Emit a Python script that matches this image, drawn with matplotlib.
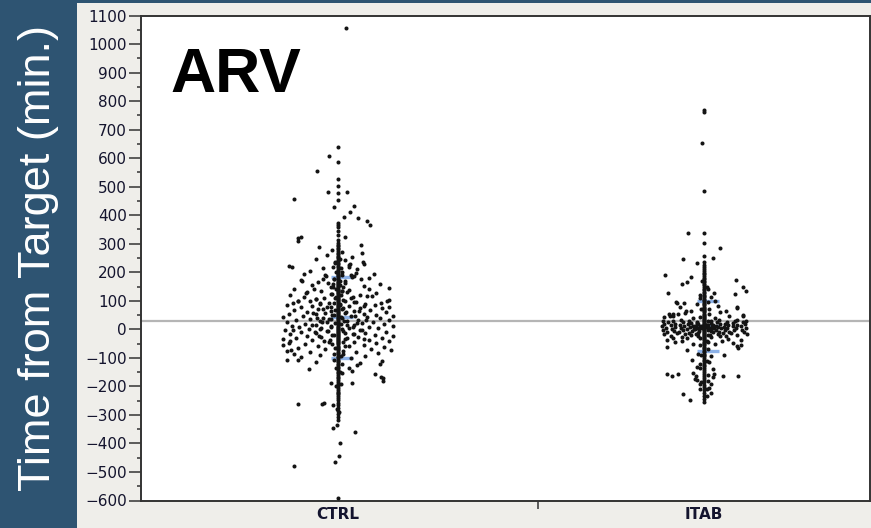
import matplotlib
matplotlib.use("Agg")
import matplotlib.pyplot as plt
from matplotlib.patches import Rectangle
from matplotlib.ticker import MultipleLocator
import numpy as np

# -----------------------------
# Data (minutes from target)
# -----------------------------

groups = ["CTRL", "ITAB"]

# points lying on the group centre line
ctrl_center = [
    640, 585, 527, 503, 477, 454, 373, 366, 360, 345, 330,
    313, 303, 297, 291, 284, 281, 276, 269, 265, 258, 252, 249, 243, 238,
    231, 228, 221, 217, 212, 206, 203, 198, 194, 191, 186, 183, 178, 175,
    171, 166, 163, 159, 154, 151, 147, 142, 139, 135, 130, 127, 123, 118,
    115, 111, 107, 102, 99, 95, 90, 87, 83, 79, 76, 71, 68, 64, 61, 57,
    53, 49, 46, 42, 39, 35, 31, 27, 24, 20, 17, 13, 9, 6, 2, -1, -5, -8,
    -12, -16, -19, -23, -27, -30, -34, -38, -42, -45, -49, -53, -57, -61,
    -66, -70, -74, -79, -83, -88, -92, -97, -101, -106, -111, -115, -120,
    -126, -131, -137, -142, -148, -153, -159, -166, -172, -178, -185, -191,
    -198, -204, -211, -219, -226, -234, -241, -249, -258, -267, -276, -286,
    -297, -308, -318,
]

itab_center = [
    768, 762, 486, 338, 301, 258, 236, 226, 219, 212, 205, 199, 193, 187,
    181, 176, 170, 165, 159, 154, 148, 143, 138, 132, 127, 122, 117, 112,
    108, 103, 98, 94, 89, 85, 80, 76, 72, 67, 63, 59, 55, 51, 47, 43, 39,
    35, 31, 28, 24, 21, 18, 15, 12, 9, 6, 3, 0, -3, -6, -9, -13, -16, -20,
    -24, -27, -31, -35, -39, -43, -47, -52, -56, -61, -65, -70, -75, -80,
    -85, -90, -95, -101, -106, -112, -118, -124, -130, -136, -142, -149,
    -156, -163, -170, -178, -186, -194, -203, -212, -222, -233, -245,
]

# jittered points: value and horizontal jitter (in group widths)
ctrl_values = [
    1055, 607, 556, 482, 480, 457, 432, 429, 411, 394, 391, 378, 367, 324,
    324, 320, 311, 294, 289, 267, 237, 229, 225, 223, 218,
    278, 270, 262, 255, 248, 242, 236, 230, 220, 219, 215, 210, 205, 200,
    197, 194, 194, 192, 190, 188, 186, 182, 181, 178, 176, 176, 174, 171,
    168, 165, 162, 162, 159, 157, 155, 152, 150, 147,
    145, 143, 143, 140, 138, 136, 133, 132, 130, 128, 126, 124, 122, 120,
    118, 117, 115, 114, 112, 111, 110, 108, 106, 104, 103, 101, 100, 98, 98,
    96, 94, 94, 92, 91, 90, 88, 86, 85, 83, 82, 80, 78, 77, 75, 74, 72, 70,
    68, 67, 65, 63, 62, 60, 58, 57, 55, 54, 52, 51,
    49, 48, 46, 45, 44, 42, 41, 40, 38, 37, 35, 34, 32, 31, 29, 28, 26, 25,
    24, 22, 20, 19, 18, 16, 15, 13, 12, 10, 9, 7, 6, 4, 3, 1, -1,
    -2, -3, -5, -7, -9, -10, -12, -14, -15, -17, -19, -21, -22, -24, -26,
    -28, -30, -31, -33, -35, -37, -39, -41, -42, -43, -45, -47, -49,
    -52, -54, -56, -58, -60, -63, -65, -68, -70, -73, -73, -75, -78, -80,
    -83, -86, -88, -91, -94, -97,
    -102, -106, -106, -110, -114, -118, -123, -126, -134, -140, -147,
    -152, -158, -166, -169, -180, -187, -188, -193, -199, -222,
    -262, -263, -257, -266, -281, -291, -337, -347, -360, -400, -444,
    -465, -480, -592,
    245, 232, 214, 201, 189, 177, 169, 160, 149, 141, 134, 125, 119, 109,
    101, 93, 86, 79, 73, 66, 59, 50, 43, 36, 30, 23, 15, 8, 0, -6, -13,
    -20, -29, -36, -44, -51, -59, -67, -76, -85, -95, -108, -121, -135,
    -150,
    96, 88, 81, 71, 64, 56, 47, 39, 33, 27, 21, 14, 7, 2, -4, -11, -18,
    -25, -33, -40,
]
ctrl_jitter = [
    0.022, -0.025, -0.057, 0.025, -0.027, -0.120, 0.044, -0.011, 0.033,
    0.016, 0.055, 0.079, 0.087, -0.101, 0.019, -0.109, -0.109, 0.063,
    -0.052, 0.066, 0.068, 0.071, 0.030, -0.134, -0.126,
    -0.016, 0.012, -0.030, 0.038, -0.060, 0.020, -0.008, 0.033, -0.014,
    0.030, -0.040, 0.052, -0.075, 0.010,
    0.049, -0.093, 0.098, -0.036, 0.036, -0.033, 0.045, 0.038, 0.085,
    -0.010, -0.041, 0.063, -0.100, -0.098, 0.020, -0.055, -0.027, 0.019,
    0.115, 0.005, -0.070, 0.070, -0.019, -0.014,
    0.140, -0.066, 0.085, -0.120, 0.030, -0.045, 0.012, 0.025, -0.085,
    -0.087, 0.105, -0.020, 0.060, -0.131, 0.079, 0.093, -0.005, -0.093,
    0.040, -0.038, 0.036, -0.060, -0.060, 0.139, 0.015, -0.110, -0.109,
    0.134, -0.076,
    0.050, -0.049, 0.117, -0.025, -0.123, 0.075, 0.005, -0.140, 0.100,
    -0.070, 0.030, 0.140, -0.100, -0.030, 0.060, 0.120, -0.055, 0.010,
    -0.120, 0.088, -0.018, 0.045, -0.085, 0.130, -0.035, 0.020, -0.135,
    0.070, -0.060, 0.105,
    -0.010, 0.150, -0.095, 0.035, -0.150, 0.080, -0.040, 0.012, 0.115,
    -0.075, -0.020, 0.055, -0.115, 0.140, -0.050, 0.025, 0.095, -0.140,
    -0.030, 0.065, -0.090, 0.125, 0.008, -0.060, 0.045, -0.125, 0.150,
    -0.020, 0.085, -0.105, 0.030, -0.045, 0.110, -0.080, -0.123,
    0.060, -0.145, 0.015, -0.030, 0.130, -0.100, 0.075, -0.060, 0.040,
    -0.130, 0.100, -0.015, 0.150, -0.085, 0.055, -0.045, 0.120, -0.115,
    0.020, -0.150, 0.085, -0.070, 0.140, -0.131, -0.025, 0.045, -0.135,
    0.105,
    -0.090, 0.070, -0.150, 0.030, -0.055, 0.125, -0.110, 0.090, -0.035,
    0.145, -0.128, -0.140, 0.050, -0.075, 0.110, -0.120, 0.015, -0.050,
    0.075, -0.100,
    0.035, -0.140, -0.109, 0.120, -0.060, 0.060, 0.115, 0.052, 0.030,
    -0.080, 0.038,
    0.010, 0.100, 0.117, 0.123, 0.123, 0.038, -0.019, 0.008, -0.004,
    0.000,
    -0.110, -0.044, -0.038, -0.014, -0.003, 0.003, -0.003, -0.014, 0.046,
    0.005, 0.003, -0.008, -0.120, 0.000,
    0.006, -0.007, 0.009, -0.005, 0.012, -0.010, 0.007, -0.013, 0.015,
    -0.006, 0.010, -0.016, 0.008, -0.009, 0.018, -0.012, 0.006, -0.020,
    0.014, -0.007, 0.022, -0.015, 0.009, -0.024, 0.017, -0.008, 0.026,
    -0.018, 0.011, -0.027, 0.020, -0.011, 0.024, -0.021, 0.013, -0.016,
    0.019, -0.009, 0.015, -0.012, 0.008, -0.010, 0.012, -0.006, 0.007,
    0.045, -0.050, 0.072, -0.040, 0.058, -0.068, 0.048, -0.058, 0.078,
    -0.044, 0.052, -0.072, 0.040, -0.048, 0.066, -0.062, 0.043, -0.052,
    0.070, -0.038,
]

itab_values = [
    652, 336, 286, 246, 232, 250,
    191, 159, 166, 182, 174, 129, 127, 124, 147, 133, 94, 92, 83, 75, 63,
    57, 63, 48, 48, 48, 96, 78, 54, 52, 54, 63, 45, 34, 51, 28, 80, 110,
    140, 170, 115, 100, 88, 70, 60, 40, 38, 42,
    30, 25, 18, 12, 5, -3, -10, -18,
    28, 20, 14, 8, 2, -6, -14, -22, -30,
    32, 24, 16, 10, 4, -2, -9, -16, -26,
    30, 22, 17, 11, 7, 1, -5, -12, -20, -32,
    26, 19, 13, 9, 5, 0, -7, -15, -25,
    28, 21, 15, 11, 6, 1, -4, -11, -19, -28,
    31, 24, 18, 12, 8, 3, -3, -9, -17, -24,
    27, 20, 14, 9, 4, -1, -8, -14, -22, -33,
    29, 21, 15, 10, 4, -4, -12, -20,
    25, 17, 11, 5, -2, -10, -18,
    10, 14, 7, 12, 16, 3, 9, 6, 11, 13,
    -38, -42, -45, -40, -48, -52, -55, -36, -44, -50,
    -62, -71, -59, -65, -91, -106, -133, -156, -164, -156, -152, -164,
    -173, -158, -168, -164, -164, -176, -180, -191, -205, -222, -226,
    -246, -255, -85, -95, -115, -120, -140, -190, -210, -235,
    150, 120, 95, 70, 55, 42, 30, 22, 15, 10, 5, 0, -5, -12, -20, -30,
    -40, -55, -70, -90, -110, -135, -160, -185, -210,
]
itab_jitter = [
    -0.005, -0.043, 0.043, -0.057, -0.018, 0.025,
    -0.107, -0.061, -0.047, -0.036, 0.087, -0.098, 0.028, 0.085, 0.106,
    0.115, -0.075, -0.054, 0.037, 0.090, -0.036, -0.052, 0.059, -0.093,
    -0.084, 0.107, -0.077, -0.066, -0.095, -0.085, -0.070, -0.049, 0.069,
    0.089, 0.107, 0.115, 0.089, -0.010, 0.010, -0.005, 0.020, 0.030,
    -0.020, 0.015, 0.045, -0.030, 0.030, -0.110,
    -0.112, -0.098, -0.110, -0.115, -0.105, -0.112, -0.100, -0.108,
    -0.085, -0.080, -0.090, -0.078, -0.088, -0.082, -0.075, -0.090, -0.085,
    -0.062, -0.058, -0.066, -0.055, -0.063, -0.057, -0.068, -0.052, -0.060,
    -0.040, -0.035, -0.044, -0.030, -0.038, -0.046, -0.033, -0.041, -0.036,
    -0.045,
    -0.020, -0.015, -0.024, -0.012, -0.018, -0.025, -0.014, -0.022, -0.017,
    0.012, 0.018, 0.010, 0.022, 0.015, 0.020, 0.012, 0.025, 0.016, 0.020,
    0.040, 0.035, 0.044, 0.032, 0.038, 0.046, 0.034, 0.041, 0.037, 0.045,
    0.062, 0.058, 0.066, 0.055, 0.063, 0.057, 0.068, 0.052, 0.060, 0.065,
    0.085, 0.080, 0.090, 0.078, 0.088, 0.082, 0.075, 0.090,
    0.108, 0.112, 0.100, 0.115, 0.105, 0.110, 0.117,
    -0.008, 0.005, 0.004, -0.004, 0.008, -0.006, 0.009, -0.010, 0.006,
    -0.003,
    -0.100, -0.060, 0.010, 0.050, 0.080, -0.030, 0.100, 0.100, -0.080,
    0.030,
    -0.102, -0.047, 0.089, 0.094, 0.056, -0.034, -0.020, -0.102, -0.086,
    -0.070, -0.029, -0.022, -0.025, 0.028, 0.024, 0.051, 0.094, -0.020,
    0.010, 0.020, 0.014, 0.020, -0.057, -0.038, 0.000, -0.015, 0.020,
    0.015, -0.010, 0.025, -0.012, -0.010, 0.008,
    0.008, -0.010, 0.012, -0.008, 0.015, -0.012, 0.020, -0.018, 0.025,
    -0.022, 0.028, -0.026, 0.018, -0.015, 0.012, -0.010, 0.009, -0.012,
    0.010, -0.008, 0.009, -0.011, 0.010, -0.009, 0.008,
]

# group mean and mean +/- one standard deviation
group_mean = [42, 12]
group_upper = [185, 101]
group_lower = [-100, -77]
overall_mean = 29

# -----------------------------
# Figure and backgrounds
# -----------------------------

W, H = 871, 528
fig = plt.figure(figsize=(W / 100, H / 100), dpi=100)
fig.patch.set_facecolor("#efeeea")
fig.patches.append(Rectangle((0, 0), 77 / W, 1, transform=fig.transFigure,
                             facecolor="#2e5472", edgecolor="none", zorder=0))
fig.patches.append(Rectangle((0, 1 - 3 / H), 1, 3 / H, transform=fig.transFigure,
                             facecolor="#2e5472", edgecolor="none", zorder=0))

ax = fig.add_axes([141 / W, 1 - 500.5 / H, 729 / W, 485 / H])
ax.set_facecolor("white")

# -----------------------------
# Points and summary lines
# -----------------------------

ax.axhline(overall_mean, color="#b5b5b5", lw=1.6, zorder=1)

for i in range(len(groups)):
    for v in (group_mean[i], group_upper[i], group_lower[i]):
        ax.hlines(v, i - 0.018, i + 0.041, color="#8db2e8", lw=2.4, zorder=2)

dot = dict(s=8.5, color="#141414", linewidths=0, zorder=3)
ax.scatter(np.zeros(len(ctrl_center)), ctrl_center, **dot)
ax.scatter(np.ones(len(itab_center)), itab_center, **dot)
ax.scatter(np.array(ctrl_jitter), ctrl_values, **dot)
ax.scatter(1 + np.array(itab_jitter), itab_values, **dot)

# -----------------------------
# Axes styling
# -----------------------------

ax.set_ylim(-600, 1100)
ax.set_xlim(-0.538, 1.4536)
ax.yaxis.set_major_locator(MultipleLocator(100))
ax.yaxis.set_minor_locator(MultipleLocator(50))

ax.set_xticks([0, 1])
ax.set_xticklabels(groups, fontweight="bold")
ax.set_xticks([0.546], minor=True)

for s in ax.spines.values():
    s.set_color("#333333")
    s.set_linewidth(1.4)

ax.tick_params(axis="y", which="major", length=8.5, width=1.1, color="#333333",
               labelsize=11, labelcolor="#14142e", pad=1.5)
ax.tick_params(axis="y", which="minor", length=3.2, width=1.1, color="#333333")
ax.tick_params(axis="x", which="major", length=0, labelsize=11,
               labelcolor="#14142e", pad=5)
ax.tick_params(axis="x", which="minor", length=6, width=1.1, color="#333333")

fig.text(50 / W, 1 - 258.5 / H, "Time from Target (min.)", rotation=90,
         rotation_mode="anchor", ha="center", va="baseline", color="white",
         fontsize=32.5, family="Liberation Sans")

fig.text(170 / W, 1 - 92 / H, "ARV", fontsize=45, fontweight="bold",
         family="Liberation Sans", ha="left", va="baseline", color="black")

fig.savefig("out.png", dpi=100, facecolor=fig.get_facecolor())
